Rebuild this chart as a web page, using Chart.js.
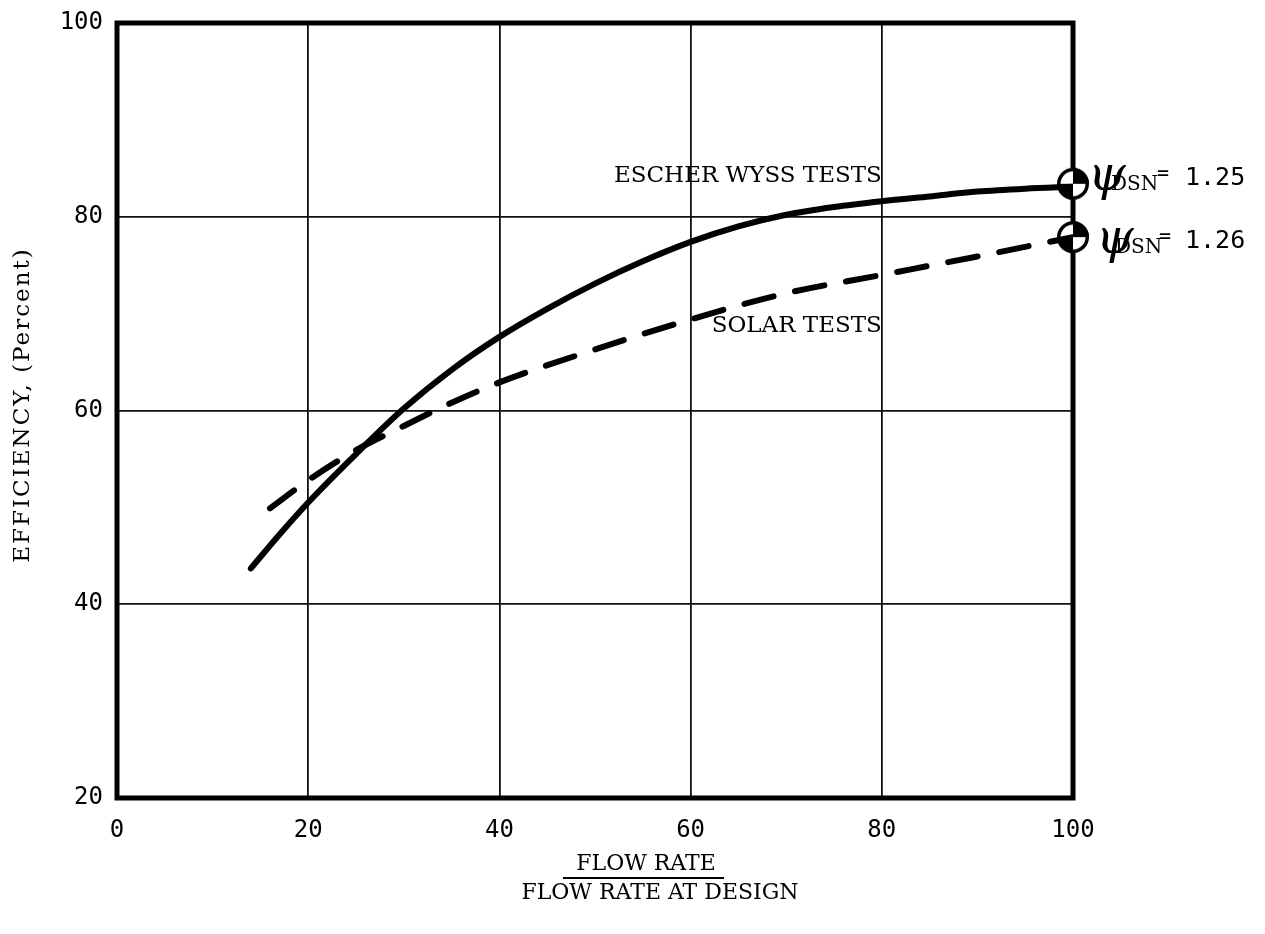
<!DOCTYPE html>
<html lang="en">
<head>
<meta charset="UTF-8">
<title>Efficiency vs flow rate</title>
<script src="https://cdn.jsdelivr.net/npm/chart.js@4.4.1/dist/chart.umd.min.js"></script>
<style>
  body { margin: 0; background: #fff; }
  #wrap { width: 1265px; height: 934px; position: relative; }
</style>
</head>
<body>
<div id="wrap"><canvas id="effChart"></canvas></div>
<script>
// flow rate in percent of design flow, efficiency in percent
var escherFlow = [14, 17, 20, 25, 30, 35, 40, 45, 50, 55, 60, 65, 70, 75, 80, 85, 90, 95, 100];
var escherEff  = [43.7, 47.2, 50.5, 55.5, 60.2, 64.2, 67.6, 70.5, 73.1, 75.4, 77.4, 79.0, 80.2, 81.0, 81.6, 82.1, 82.6, 82.9, 83.1];
var solarFlow = [16, 20, 25, 30, 35, 40, 50, 60, 70, 80, 90, 100];
var solarEff  = [49.9, 52.8, 55.9, 58.4, 60.8, 62.9, 66.3, 69.4, 72.1, 74.0, 75.9, 77.9];

// design points and their head coefficients
var designFlow = [100, 100];
var designEff  = [83.4, 77.9];
var designPsi  = ["1.25", "1.26"];

var xTicks = [0, 20, 40, 60, 80, 100];
var yTicks = [20, 40, 60, 80, 100];

function pairs(xs, ys) {
    return xs.map(function (x, i) { return {x: x, y: ys[i]}; });
}

// circle with two opposite quarters filled
function designMark(r) {
    var c = document.createElement('canvas');
    var s = 2 * r + 4;
    c.width = s; c.height = s;
    var g = c.getContext('2d');
    var m = s / 2;
    g.fillStyle = '#fff';
    g.beginPath(); g.arc(m, m, r, 0, Math.PI * 2); g.fill();
    g.fillStyle = '#000';
    g.beginPath(); g.moveTo(m, m); g.arc(m, m, r, -Math.PI / 2, 0); g.closePath(); g.fill();
    g.beginPath(); g.moveTo(m, m); g.arc(m, m, r, Math.PI / 2, Math.PI); g.closePath(); g.fill();
    g.lineWidth = 3.5; g.strokeStyle = '#000';
    g.beginPath(); g.arc(m, m, r - 1.75, 0, Math.PI * 2); g.stroke();
    return c;
}

var serif = '"DejaVu Serif", serif';
var sansMono = '"DejaVu Sans Mono", monospace';

var frameAndText = {
    id: 'frameAndText',
    beforeDatasetsDraw: function (chart) {
        var a = chart.chartArea, ctx = chart.ctx;
        ctx.save();
        ctx.lineWidth = 5;
        ctx.strokeStyle = '#000';
        ctx.strokeRect(a.left, a.top, a.right - a.left, a.bottom - a.top);
        ctx.restore();
    },
    afterDraw: function (chart) {
        var ctx = chart.ctx;
        var xs = chart.scales.x, ys = chart.scales.y;
        ctx.save();
        ctx.fillStyle = '#000';
        ctx.strokeStyle = '#000';

        // curve labels
        ctx.font = '23px ' + serif;
        ctx.textAlign = 'right';
        ctx.textBaseline = 'alphabetic';
        ctx.fillText('ESCHER WYSS TESTS', xs.getPixelForValue(80), ys.getPixelForValue(83.6));
        ctx.fillText('SOLAR TESTS', xs.getPixelForValue(80), ys.getPixelForValue(68.1));

        // y axis title
        ctx.save();
        ctx.translate(23, 405);
        ctx.rotate(-Math.PI / 2);
        ctx.textAlign = 'center';
        ctx.textBaseline = 'middle';
        ctx.font = '23px ' + serif;
        ctx.letterSpacing = '2px';
        ctx.fillText('EFFICIENCY, (Percent)', 0, 0);
        ctx.restore();

        // x axis title as a fraction
        ctx.textAlign = 'center';
        ctx.textBaseline = 'alphabetic';
        ctx.font = '22px ' + serif;
        ctx.fillText('FLOW RATE', 646, 870);
        ctx.lineWidth = 2;
        ctx.beginPath(); ctx.moveTo(563, 878); ctx.lineTo(724, 878); ctx.stroke();
        ctx.fillText('FLOW RATE AT DESIGN', 660, 899);

        // head coefficient labels next to the design points
        var meta = chart.getDatasetMeta(2);
        var shift = [0, 10];
        meta.data.forEach(function (pt, i) {
            var cx = pt.x, cy = pt.y + shift[i];
            ctx.textAlign = 'left';
            ctx.font = 'italic 48px "DejaVu Serif", serif';
            ctx.fillText('\u03C8', cx + 15 + i * 8, cy + 6);
            ctx.font = '20px ' + serif;
            ctx.fillText('DSN', cx + 38 + i * 4, cy + 6);
            ctx.font = '20px ' + sansMono;
            ctx.fillText('=', cx + 84 + i * 2, cy - 5);
            ctx.font = '25px ' + sansMono;
            ctx.fillText(designPsi[i], cx + 112, cy + 1);
        });
        ctx.restore();
    }
};

new Chart(document.getElementById('effChart'), {
    type: 'line',
    data: {
        datasets: [
            {
                label: 'Escher Wyss tests',
                data: pairs(escherFlow, escherEff),
                borderColor: '#000',
                borderWidth: 6,
                borderCapStyle: 'round',
                cubicInterpolationMode: 'monotone',
                pointRadius: 0,
                fill: false
            },
            {
                label: 'Solar tests',
                data: pairs(solarFlow, solarEff),
                borderColor: '#000',
                borderWidth: 6,
                borderDash: [30, 22],
                borderCapStyle: 'round',
                cubicInterpolationMode: 'monotone',
                pointRadius: 0,
                fill: false
            },
            {
                label: 'Design point',
                data: pairs(designFlow, designEff),
                showLine: false,
                pointStyle: designMark(16),
                pointRadius: 16,
                clip: false
            }
        ]
    },
    options: {
        responsive: true,
        maintainAspectRatio: false,
        animation: false,
        layout: { padding: { top: 23, right: 192, left: 0, bottom: 0 } },
        plugins: { legend: { display: false }, tooltip: { enabled: false } },
        scales: {
            x: {
                type: 'linear',
                min: 0,
                max: 100,
                afterBuildTicks: function (s) { s.ticks = xTicks.map(function (v) { return {value: v}; }); },
                afterFit: function (s) { s.height = 136; s.paddingLeft = 0; s.paddingRight = 0; },
                grid: { color: '#111', lineWidth: 1.8, drawTicks: false },
                border: { display: false },
                ticks: { color: '#000', padding: 18, maxRotation: 0, font: { family: sansMono, size: 24 } }
            },
            y: {
                type: 'linear',
                min: 20,
                max: 100,
                afterBuildTicks: function (s) { s.ticks = yTicks.map(function (v) { return {value: v}; }); },
                afterFit: function (s) { s.width = 117; s.paddingTop = 0; s.paddingBottom = 0; },
                grid: { color: '#111', lineWidth: 1.8, drawTicks: false },
                border: { display: false },
                ticks: { color: '#000', padding: 14, font: { family: sansMono, size: 24 } }
            }
        }
    },
    plugins: [frameAndText]
});
</script>
</body>
</html>
